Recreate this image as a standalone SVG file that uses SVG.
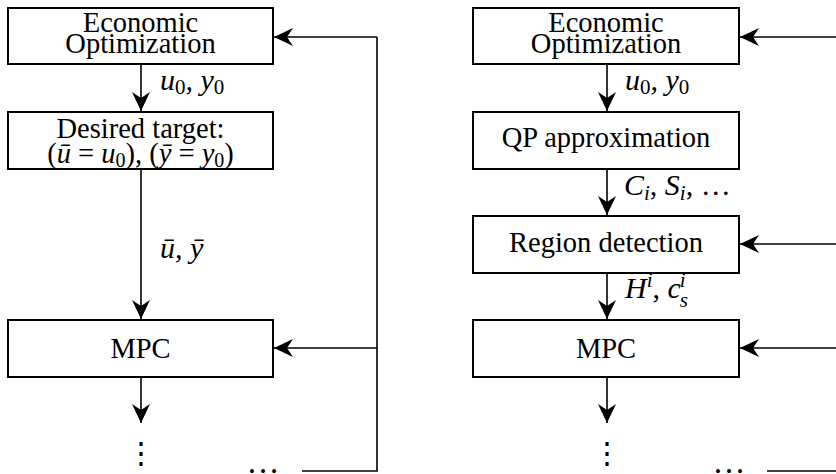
<svg xmlns="http://www.w3.org/2000/svg" width="836" height="474" viewBox="0 0 836 474">
<style>
.box{fill:#fff;stroke:#000;stroke-width:2}
.t{font-size:28.5px;fill:#000;text-anchor:middle}
.m{font-size:30px;font-style:italic;fill:#000}
.sub{font-size:21px;font-style:normal}
.subi{font-size:21px}
.c{fill:none;stroke:#000;stroke-width:1.6}
.a{fill:none;stroke:#000;stroke-width:1.6;marker-end:url(#ah)}
.d{font-size:30px;fill:#000;text-anchor:middle}
</style>
<defs>
<marker id="ah" markerUnits="userSpaceOnUse" markerWidth="22" markerHeight="22" refX="20" refY="11" orient="auto" viewBox="0 0 22 22">
<path d="M20,11 L1,2 L7,11 L1,20 Z" fill="#000"/>
</marker>
</defs>
<g id="connectors">
<line class="a" x1="141" y1="64" x2="141" y2="111"/>
<line class="a" x1="141" y1="169" x2="141" y2="319"/>
<line class="a" x1="141" y1="377" x2="141" y2="423"/>
<polyline class="c" points="302,471 377,471 377,37"/>
<line class="a" x1="377" y1="37" x2="274" y2="37"/>
<line class="a" x1="377" y1="348" x2="274" y2="348"/>
<line class="a" x1="607" y1="64" x2="607" y2="111"/>
<line class="a" x1="607" y1="169" x2="607" y2="215"/>
<line class="a" x1="607" y1="273" x2="607" y2="319"/>
<line class="a" x1="607" y1="377" x2="607" y2="423"/>
<line class="a" x1="840" y1="37" x2="740" y2="37"/>
<line class="a" x1="840" y1="244" x2="740" y2="244"/>
<line class="a" x1="840" y1="348" x2="740" y2="348"/>
<line class="c" x1="767" y1="471" x2="840" y2="471"/>
</g>
<g font-family="'Liberation Serif', 'DejaVu Serif', serif">
<g id="left-econ">
<rect class="box" x="8" y="8" width="265" height="56"/>
<text class="t" x="140.5" y="32">Economic</text>
<text class="t" x="140.5" y="53">Optimization</text>
</g>
<g id="left-target">
<rect class="box" x="8" y="112" width="265" height="57"/>
<text class="t" x="140.5" y="138">Desired target:</text>
<text class="t" x="140.5" y="163">(<tspan font-style="italic">ū</tspan> = <tspan font-style="italic">u</tspan><tspan font-size="20" dy="4">0</tspan><tspan dy="-4">), (</tspan><tspan font-style="italic">ȳ</tspan> = <tspan font-style="italic">y</tspan><tspan font-size="20" dy="4">0</tspan><tspan dy="-4">)</tspan></text>
</g>
<g id="left-mpc">
<rect class="box" x="8" y="320" width="265" height="57"/>
<text class="t" x="140.5" y="358">MPC</text>
</g>
<g id="right-econ">
<rect class="box" x="473" y="8" width="266" height="56"/>
<text class="t" x="606" y="32">Economic</text>
<text class="t" x="606" y="53">Optimization</text>
</g>
<g id="right-qp">
<rect class="box" x="473" y="112" width="266" height="57"/>
<text class="t" x="606" y="147">QP approximation</text>
</g>
<g id="right-region">
<rect class="box" x="473" y="216" width="266" height="57"/>
<text class="t" x="606" y="252">Region detection</text>
</g>
<g id="right-mpc">
<rect class="box" x="473" y="320" width="266" height="57"/>
<text class="t" x="606" y="358">MPC</text>
</g>
<g id="labels">
<text class="m" x="160" y="90">u<tspan class="sub" dy="4">0</tspan><tspan dy="-4">, y</tspan><tspan class="sub" dy="4">0</tspan></text>
<text class="m" x="160" y="258">ū, ȳ</text>
<text class="m" x="625" y="90">u<tspan class="sub" dy="4">0</tspan><tspan dy="-4">, y</tspan><tspan class="sub" dy="4">0</tspan></text>
<text class="m" x="624" y="195">C<tspan class="subi" dy="5">i</tspan><tspan dy="-5" font-style="normal">, </tspan><tspan>S</tspan><tspan class="subi" dy="5">i</tspan><tspan dy="-5" font-style="normal">, …</tspan></text>
<text class="m" x="625" y="298">H<tspan class="subi" dy="-11">i</tspan><tspan dy="11" font-style="normal">, </tspan><tspan>c</tspan><tspan class="subi" dx="-1" dy="-11">i</tspan><tspan class="subi" dx="-6" dy="20">s</tspan></text>
</g>
<g id="dots">
<text class="d" x="141" y="463">⋮</text>
<text class="d" x="607" y="463">⋮</text>
<text class="t" x="263" y="473" style="font-size:33px">…</text>
<text class="t" x="729" y="473" style="font-size:33px">…</text>
</g>
</g>
</svg>
